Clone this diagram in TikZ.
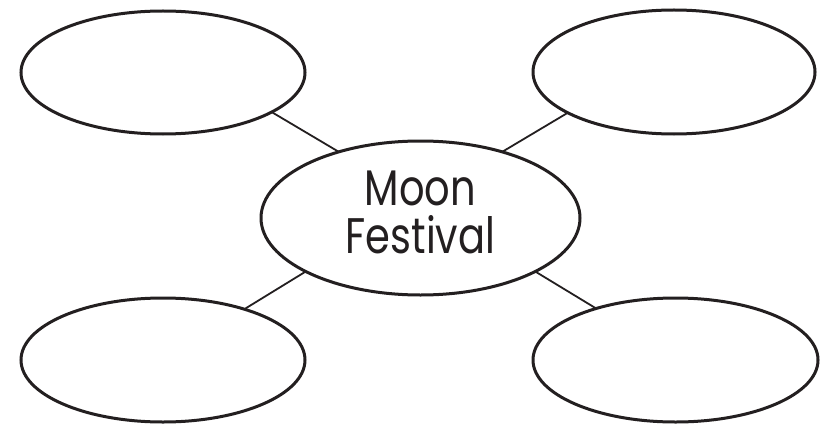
\documentclass[tikz,border=0pt]{standalone}
\usepackage{fontspec}
\setmainfont{Poppins}[FakeStretch=0.8]
\usetikzlibrary{shapes.geometric}
\definecolor{ink}{HTML}{231F20}
\begin{document}
\begin{tikzpicture}[x=1pt,y=-1pt,
  bubble/.style={ellipse, draw=ink, line width=3pt, inner sep=0pt, outer sep=0pt},
  link/.style={draw=ink, line width=1.8pt}]
\useasboundingbox (0,0) rectangle (826,425);
\node[bubble, minimum width=284pt, minimum height=123pt] (tl) at (163,72.5) {};
\node[bubble, minimum width=282pt, minimum height=124pt] (tr) at (674,72) {};
\node[bubble, minimum width=284pt, minimum height=124pt] (bl) at (163,360) {};
\node[bubble, minimum width=285pt, minimum height=124pt] (br) at (675.5,360) {};
\node[bubble, minimum width=319pt, minimum height=154pt, align=center,
  font=\fontsize{50}{48}\selectfont, text=ink] (c) at (420.5,218) {Moon\\Festival\rule[-11pt]{0pt}{0pt}};
\draw[link] (tl.-20) -- (c.141);
\draw[link] (tr.201) -- (c.39);
\draw[link] (bl.32) -- (c.205);
\draw[link] (br.147) -- (c.-25);
\end{tikzpicture}
\end{document}
